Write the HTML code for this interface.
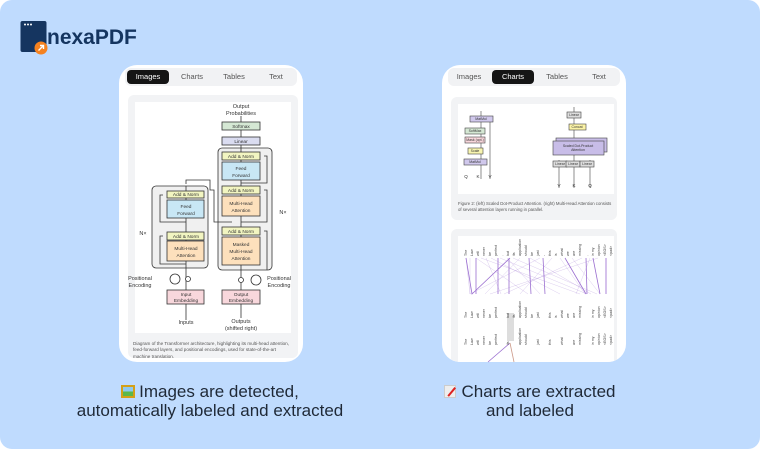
<!DOCTYPE html>
<html><head><meta charset="utf-8"><style>
*{margin:0;padding:0;box-sizing:border-box}
body{width:760px;height:449px;background:#fff;font-family:"Liberation Sans",sans-serif;overflow:hidden;position:relative}
.bg{position:absolute;left:0;top:0;width:760px;height:449px;background:#bfdbfe;border-radius:12px}
.card{position:absolute;top:65px;width:184px;height:297px;background:#fff;border-radius:18px;overflow:hidden}
.tabs{position:absolute;left:6px;top:3px;width:172px;height:18px;background:#f1f2f4;border-radius:6px;display:flex;font-size:7.5px;color:#555;align-items:center}
.tabs div{flex:1;text-align:center;line-height:14px}
.tabs .on{background:#151515;color:#fff;border-radius:4px;margin:0 2px}
.panel{position:absolute;background:#f2f3f5;border-radius:6px}
.white{position:absolute;background:#fff}
.cap{position:absolute;font-size:4.6px;color:#555;line-height:6.4px}
.txt{position:absolute;font-size:17px;color:#1f2937;text-align:center;line-height:19px}
</style></head><body>
<div class="bg"></div>
<svg style="position:absolute;left:20px;top:20px" width="130" height="36">
<rect x="0.5" y="1" width="26" height="31" rx="2" fill="#153560"/>
<circle cx="5" cy="4.5" r="1" fill="#fff"/><circle cx="8" cy="4.5" r="1" fill="#fff"/><circle cx="11" cy="4.5" r="1" fill="#fff"/>
<circle cx="21" cy="28" r="6.5" fill="#f58220"/>
<path d="M18.5 30.5 L23.5 25.5 M20 25.5 H23.5 V29" stroke="#fff" stroke-width="1.4" fill="none"/>
<text x="27" y="24" font-family="Liberation Sans,sans-serif" font-weight="bold" font-size="21" fill="#153560">nexaPDF</text>
</svg>

<div class="card" style="left:119px">
 <div class="tabs"><div class="on">Images</div><div>Charts</div><div>Tables</div><div>Text</div></div>
 <div class="panel" style="left:9px;top:30px;width:170px;height:263px"></div>
 <div class="white" style="left:16px;top:37px;width:156px;height:231px"></div>
 <div class="cap" style="left:14px;top:276px;width:160px">Diagram of the Transformer architecture, highlighting its multi-head attention, feed-forward layers, and positional encodings, used for state-of-the-art machine translation.</div>
</div>
<svg style="position:absolute;left:0;top:0" width="760" height="449" font-family="Liberation Sans,sans-serif" font-size="5.5" text-anchor="middle">
<g fill="#333">
<text x="241" y="108">Output</text><text x="241" y="115">Probabilities</text>
<text x="186" y="324">Inputs</text><text x="241" y="323">Outputs</text><text x="241" y="330">(shifted right)</text>
<text x="143" y="235">N×</text><text x="283" y="214">N×</text>
<text x="140" y="280">Positional</text><text x="140" y="287">Encoding</text>
<text x="279" y="280">Positional</text><text x="279" y="287">Encoding</text>
</g>
<g stroke="#333" stroke-width="0.8">
<rect x="218" y="148" width="54" height="122" rx="4" fill="#f0f0f0"/>
<rect x="152" y="186" width="56" height="82" rx="4" fill="#f0f0f0"/>
<line x1="241" y1="116" x2="241" y2="304"/><line x1="186" y1="186" x2="186" y2="320"/><line x1="241" y1="304" x2="241" y2="318"/>
<path d="M186 184 V180 H210 V190 H214 V222 H232" fill="none"/>
<rect x="222" y="122" width="38" height="8" fill="#d5e8d4"/>
<rect x="222" y="137" width="38" height="8" fill="#dadcf0"/>
<rect x="222" y="152" width="38" height="8" fill="#f2f5c1"/>
<rect x="222" y="162" width="38" height="18" fill="#c8e7f5"/>
<rect x="222" y="186" width="38" height="8" fill="#f2f5c1"/>
<rect x="222" y="196" width="38" height="20" fill="#fde0bc"/>
<rect x="222" y="227" width="38" height="8" fill="#f2f5c1"/>
<rect x="222" y="237" width="38" height="28" fill="#fde0bc"/>
<rect x="167" y="191" width="37" height="7" fill="#f2f5c1"/>
<rect x="167" y="200" width="37" height="18" fill="#c8e7f5"/>
<rect x="167" y="232" width="37" height="8" fill="#f2f5c1"/>
<rect x="167" y="241" width="37" height="20" fill="#fde0bc"/>
<rect x="167" y="290" width="37" height="14" fill="#f8d7dc"/>
<rect x="222" y="290" width="38" height="14" fill="#f8d7dc"/>
<circle cx="175" cy="279" r="5" fill="#fff"/><circle cx="188" cy="279" r="2.5" fill="#fff"/>
<circle cx="256" cy="280" r="5" fill="#fff"/><circle cx="241" cy="280" r="2.5" fill="#fff"/>
<path d="M264 156 H267 V183 H241 M264 190 H267 V222 H241 M264 231 H267 V270 M163 195 H160 V222 H186 M163 236 H160 V264 H186" fill="none"/>
</g>
<g fill="#333" font-size="4.8">
<text x="241" y="128">Softmax</text><text x="241" y="143">Linear</text>
<text x="241" y="158">Add &amp; Norm</text><text x="241" y="170">Feed</text><text x="241" y="177">Forward</text>
<text x="241" y="192">Add &amp; Norm</text><text x="241" y="205">Multi-Head</text><text x="241" y="212">Attention</text>
<text x="241" y="233">Add &amp; Norm</text><text x="241" y="246">Masked</text><text x="241" y="253">Multi-Head</text><text x="241" y="260">Attention</text>
<text x="186" y="196">Add &amp; Norm</text><text x="186" y="208">Feed</text><text x="186" y="215">Forward</text>
<text x="186" y="238">Add &amp; Norm</text><text x="186" y="250">Multi-Head</text><text x="186" y="257">Attention</text>
<text x="186" y="296">Input</text><text x="186" y="302">Embedding</text>
<text x="241" y="296">Output</text><text x="241" y="302">Embedding</text>
</g>
</svg>

<div class="card" style="left:442px">
 <div class="tabs"><div>Images</div><div class="on">Charts</div><div>Tables</div><div>Text</div></div>
 <div class="panel" style="left:9px;top:32px;width:166px;height:123px"></div>
 <div class="white" style="left:16px;top:39px;width:156px;height:90px"></div>
 <div class="cap" style="left:16px;top:136px;width:156px;font-size:4.3px">Figure 2: (left) Scaled Dot-Product Attention. (right) Multi-Head Attention consists of several attention layers running in parallel.</div>
 <div class="panel" style="left:9px;top:164px;width:166px;height:140px"></div>
 <div class="white" style="left:16px;top:171px;width:156px;height:130px"></div>
</div>
<svg style="position:absolute;left:0;top:0" width="760" height="449" font-family="Liberation Sans,sans-serif" font-size="3.5" text-anchor="middle">
<g stroke="#444" stroke-width="0.6">
<line x1="481" y1="111" x2="481" y2="179"/><line x1="490" y1="122" x2="490" y2="179"/>
<rect x="470" y="116" width="23" height="6" fill="#d0c8ec"/>
<rect x="465" y="128" width="20" height="6" fill="#d5e8d4"/>
<rect x="465" y="137" width="20" height="6" fill="#f8d7dc"/>
<rect x="468" y="148" width="15" height="6" fill="#f8f5b0"/>
<rect x="464" y="159" width="23" height="6" fill="#d0c8ec"/>
<line x1="574" y1="107" x2="574" y2="188"/><line x1="559" y1="160" x2="559" y2="188"/><line x1="590" y1="160" x2="590" y2="188"/>
<rect x="567" y="112" width="14" height="6" fill="#ddd"/>
<rect x="569" y="124" width="17" height="6" fill="#fbf3a6"/>
<rect x="556" y="138" width="51" height="14" fill="#c8bde8"/>
<rect x="553" y="141" width="51" height="14" fill="#c8bde8"/>
<rect x="553" y="161" width="14" height="6" fill="#ddd"/><rect x="566" y="161" width="14" height="6" fill="#ddd"/><rect x="580" y="161" width="14" height="6" fill="#ddd"/>
</g>
<g fill="#333"><text x="481" y="120">MatMul</text><text x="475" y="132">SoftMax</text><text x="475" y="141">Mask (opt.)</text><text x="475" y="152">Scale</text><text x="475" y="163">MatMul</text>
<text x="466" y="178" font-size="4.5">Q</text><text x="478" y="178" font-size="4.5">K</text><text x="490" y="178" font-size="4.5">V</text>
<text x="574" y="116">Linear</text><text x="577" y="128">Concat</text><text x="578" y="147">Scaled Dot-Product</text><text x="578" y="151">Attention</text>
<text x="560" y="165">Linear</text><text x="573" y="165">Linear</text><text x="587" y="165">Linear</text>
<text x="559" y="187" font-size="4.5">V</text><text x="574" y="187" font-size="4.5">K</text><text x="590" y="187" font-size="4.5">Q</text></g>
<g stroke="#9b6fd0" stroke-width="0.4" opacity="0.45" fill="none">
<path d="M466 258 L470 294 M470 258 L470 294 M476 258 L528 294 M481 258 L580 294 M486 258 L501 294 M491 258 L560 294 M500 258 L587 294 M507 258 L540 294 M513 258 L597 294 M520 258 L485 294 M530 258 L591 294 M540 258 L470 294 M552 258 L520 294 M560 258 L585 294 M572 258 L600 294 M582 258 L504 294 M590 258 L576 294 M598 258 L490 294 M606 258 L606 294"/>
</g>
<g stroke="#9b6fd0" stroke-width="0.8" fill="none">
<path d="M466 258 L472 294 L510 258 M509 258 L509 294 M529 258 L531 294 M565 258 L586 294 M586 258 L587 294 M593 258 L600 294 M606 258 L606 294 M476 258 L476 294 M498 258 L498 294 M543 258 L545 294"/>
<path d="M488 362 L510 343"/><path d="M510 343 L514 362" stroke="#c98"/>
</g>
<rect x="507" y="313" width="7" height="28" fill="#ddd"/>
<g fill="#444" font-size="3.6" text-anchor="start">
<g transform="translate(0,256)">
<text transform="translate(467,0) rotate(-90)">The</text><text transform="translate(473,0) rotate(-90)">Law</text><text transform="translate(479,0) rotate(-90)">will</text><text transform="translate(485,0) rotate(-90)">never</text><text transform="translate(491,0) rotate(-90)">be</text><text transform="translate(497,0) rotate(-90)">perfect</text><text transform="translate(503,0) rotate(-90)">,</text><text transform="translate(509,0) rotate(-90)">but</text><text transform="translate(515,0) rotate(-90)">its</text><text transform="translate(521,0) rotate(-90)">application</text><text transform="translate(527,0) rotate(-90)">should</text><text transform="translate(533,0) rotate(-90)">be</text><text transform="translate(539,0) rotate(-90)">just</text><text transform="translate(545,0) rotate(-90)">-</text><text transform="translate(551,0) rotate(-90)">this</text><text transform="translate(557,0) rotate(-90)">is</text><text transform="translate(563,0) rotate(-90)">what</text><text transform="translate(569,0) rotate(-90)">we</text><text transform="translate(575,0) rotate(-90)">are</text><text transform="translate(581,0) rotate(-90)">missing</text><text transform="translate(588,0) rotate(-90)">,</text><text transform="translate(594,0) rotate(-90)">in my</text><text transform="translate(600,0) rotate(-90)">opinion</text><text transform="translate(606,0) rotate(-90)">&lt;EOS&gt;</text><text transform="translate(612,0) rotate(-90)">&lt;pad&gt;</text>
</g>
<g transform="translate(0,318)">
<text transform="translate(467,0) rotate(-90)">The</text><text transform="translate(473,0) rotate(-90)">Law</text><text transform="translate(479,0) rotate(-90)">will</text><text transform="translate(485,0) rotate(-90)">never</text><text transform="translate(491,0) rotate(-90)">be</text><text transform="translate(497,0) rotate(-90)">perfect</text><text transform="translate(509,0) rotate(-90)">but</text><text transform="translate(515,0) rotate(-90)">its</text><text transform="translate(521,0) rotate(-90)">application</text><text transform="translate(527,0) rotate(-90)">should</text><text transform="translate(533,0) rotate(-90)">be</text><text transform="translate(539,0) rotate(-90)">just</text><text transform="translate(551,0) rotate(-90)">this</text><text transform="translate(557,0) rotate(-90)">is</text><text transform="translate(563,0) rotate(-90)">what</text><text transform="translate(569,0) rotate(-90)">we</text><text transform="translate(575,0) rotate(-90)">are</text><text transform="translate(581,0) rotate(-90)">missing</text><text transform="translate(594,0) rotate(-90)">in my</text><text transform="translate(600,0) rotate(-90)">opinion</text><text transform="translate(606,0) rotate(-90)">&lt;EOS&gt;</text><text transform="translate(612,0) rotate(-90)">&lt;pad&gt;</text>
</g>
<g transform="translate(0,345)">
<text transform="translate(467,0) rotate(-90)">The</text><text transform="translate(473,0) rotate(-90)">Law</text><text transform="translate(479,0) rotate(-90)">will</text><text transform="translate(485,0) rotate(-90)">never</text><text transform="translate(491,0) rotate(-90)">be</text><text transform="translate(497,0) rotate(-90)">perfect</text><text transform="translate(509,0) rotate(-90)">its</text><text transform="translate(521,0) rotate(-90)">application</text><text transform="translate(527,0) rotate(-90)">should</text><text transform="translate(539,0) rotate(-90)">just</text><text transform="translate(551,0) rotate(-90)">this</text><text transform="translate(563,0) rotate(-90)">what</text><text transform="translate(575,0) rotate(-90)">are</text><text transform="translate(581,0) rotate(-90)">missing</text><text transform="translate(594,0) rotate(-90)">in my</text><text transform="translate(600,0) rotate(-90)">opinion</text><text transform="translate(606,0) rotate(-90)">&lt;EOS&gt;</text><text transform="translate(612,0) rotate(-90)">&lt;pad&gt;</text>
</g>
</g>
</svg>

<div class="txt" style="left:30px;top:382px;width:360px"><span style="display:inline-block;width:14px;height:13px;background:linear-gradient(#8ec9f0 50%,#5bb84a 50%);border:2px solid #d4a017;vertical-align:-1px;margin-right:4px"></span>Images are detected,<br>automatically labeled and extracted</div>
<div class="txt" style="left:380px;top:382px;width:300px"><span style="display:inline-block;width:12px;height:13px;background:#eee;border:1px solid #ccc;vertical-align:-1px;margin-right:5px;position:relative"><span style="position:absolute;left:1px;top:5px;width:11px;height:1.5px;background:#d22;transform:rotate(-50deg)"></span></span>Charts are extracted<br>and labeled</div>
</body></html>
